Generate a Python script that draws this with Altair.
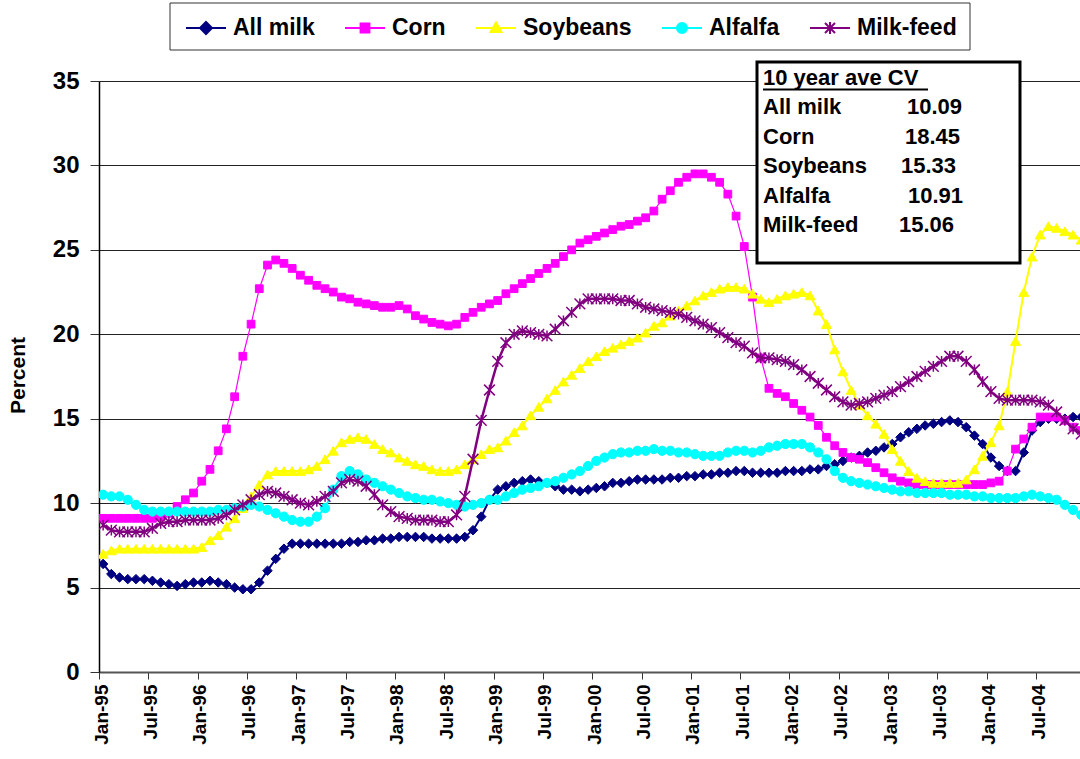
import json
import altair as alt
import pandas as pd

FONT = "Liberation Sans"

series_names = ["All milk", "Corn", "Soybeans", "Alfalfa", "Milk-feed"]
series_colors = ["#000080", "#FF00FF", "#FFFF00", "#00FFFF", "#800080"]

# Monthly categories, Jan-95 .. Dec-04
months = pd.date_range("1995-01-01", periods=120, freq="MS").strftime("%b-%y").tolist()

all_milk = [
    6.4, 5.8, 5.6, 5.5, 5.5, 5.5, 5.4, 5.3, 5.2, 5.1,
    5.2, 5.3, 5.3, 5.4, 5.3, 5.2, 5.0, 4.9, 4.9, 5.3,
    6.0, 6.7, 7.3, 7.6, 7.6, 7.6, 7.6, 7.6, 7.6, 7.6,
    7.7, 7.7, 7.8, 7.8, 7.9, 7.9, 8.0, 8.0, 8.0, 8.0,
    7.9, 7.9, 7.9, 7.9, 8.0, 8.4, 9.2, 10.2, 10.8, 11.0,
    11.2, 11.3, 11.4, 11.3, 11.2, 11.0, 10.8, 10.8, 10.7, 10.8,
    10.9, 11.0, 11.2, 11.2, 11.3, 11.4, 11.4, 11.4, 11.4, 11.5,
    11.5, 11.6, 11.6, 11.7, 11.7, 11.8, 11.8, 11.9, 11.9, 11.8,
    11.8, 11.8, 11.8, 11.9, 11.9, 11.9, 12.0, 12.0, 12.2, 12.3,
    12.5, 12.7, 12.8, 13.0, 13.1, 13.3, 13.5, 13.9, 14.2, 14.4,
    14.6, 14.7, 14.8, 14.9, 14.8, 14.5, 14.0, 13.5, 12.7, 12.2,
    11.9, 11.9, 13.0, 14.3, 14.8, 15.0, 15.0, 15.0, 15.1, 15.1,
]
corn = [
    9.1, 9.1, 9.1, 9.1, 9.1, 9.1, 9.1, 9.2, 9.4, 9.8,
    10.2, 10.6, 11.3, 12.0, 13.1, 14.4, 16.3, 18.7, 20.6, 22.7,
    24.1, 24.4, 24.2, 23.9, 23.5, 23.2, 22.9, 22.7, 22.5, 22.2,
    22.1, 21.9, 21.8, 21.7, 21.6, 21.6, 21.7, 21.5, 21.1, 20.9,
    20.7, 20.6, 20.5, 20.6, 21.0, 21.3, 21.6, 21.8, 22.0, 22.4,
    22.7, 23.0, 23.3, 23.6, 23.9, 24.2, 24.6, 25.0, 25.4, 25.6,
    25.8, 26.0, 26.2, 26.4, 26.5, 26.7, 26.9, 27.3, 28.0, 28.5,
    29.0, 29.3, 29.5, 29.5, 29.3, 29.0, 28.3, 27.0, 25.2, 22.2,
    18.6, 16.8, 16.5, 16.3, 15.9, 15.5, 15.1, 14.6, 13.9, 13.4,
    13.0, 12.7, 12.6, 12.4, 12.1, 11.8, 11.5, 11.3, 11.2, 11.1,
    11.1, 11.1, 11.1, 11.1, 11.1, 11.1, 11.1, 11.1, 11.2, 11.3,
    11.9, 13.2, 13.8, 14.5, 15.1, 15.1, 15.1, 14.9, 14.5, 14.3,
]
soybeans = [
    7.0, 7.2, 7.3, 7.3, 7.3, 7.3, 7.3, 7.3, 7.3, 7.3,
    7.3, 7.3, 7.4, 7.8, 8.1, 8.6, 9.1, 9.7, 10.4, 11.1,
    11.7, 11.9, 11.9, 11.9, 11.9, 12.0, 12.2, 12.6, 13.1, 13.6,
    13.8, 13.9, 13.8, 13.5, 13.2, 13.0, 12.7, 12.5, 12.3, 12.2,
    12.0, 11.9, 11.9, 12.0, 12.3, 12.6, 12.9, 13.2, 13.3, 13.7,
    14.2, 14.6, 15.2, 15.7, 16.2, 16.7, 17.2, 17.6, 18.0, 18.4,
    18.7, 19.0, 19.2, 19.4, 19.6, 19.8, 20.1, 20.5, 20.7, 21.1,
    21.4, 21.7, 22.0, 22.3, 22.5, 22.7, 22.8, 22.8, 22.7, 22.4,
    22.1, 21.9, 22.1, 22.3, 22.4, 22.5, 22.3, 21.4, 20.6, 19.1,
    17.8, 16.7, 15.8, 15.2, 14.7, 14.1, 13.2, 12.5, 11.9, 11.5,
    11.3, 11.2, 11.2, 11.2, 11.2, 11.4, 12.0, 12.8, 13.6, 14.6,
    16.6, 19.6, 22.5, 24.6, 25.9, 26.4, 26.3, 26.1, 25.9, 25.6,
]
alfalfa = [
    10.5, 10.4, 10.4, 10.2, 9.9, 9.6, 9.5, 9.5, 9.5, 9.5,
    9.5, 9.5, 9.5, 9.5, 9.6, 9.6, 9.7, 9.8, 9.9, 9.8,
    9.6, 9.4, 9.2, 9.0, 8.9, 8.9, 9.2, 9.7, 10.8, 11.6,
    11.9, 11.7, 11.4, 11.2, 11.0, 10.8, 10.6, 10.4, 10.3, 10.2,
    10.2, 10.1, 10.0, 9.9, 9.8, 9.9, 10.0, 10.2, 10.2, 10.4,
    10.6, 10.8, 10.9, 11.0, 11.2, 11.3, 11.5, 11.7, 11.9, 12.2,
    12.5, 12.7, 12.9, 13.0, 13.0, 13.1, 13.1, 13.2, 13.1, 13.1,
    13.0, 13.0, 12.9, 12.8, 12.8, 12.8, 13.0, 13.1, 13.1, 13.0,
    13.1, 13.3, 13.4, 13.5, 13.5, 13.5, 13.3, 13.0, 12.6, 11.9,
    11.5, 11.3, 11.2, 11.1, 11.0, 10.9, 10.8, 10.7, 10.7, 10.6,
    10.6, 10.6, 10.6, 10.5, 10.5, 10.5, 10.4, 10.4, 10.3, 10.3,
    10.3, 10.3, 10.4, 10.5, 10.4, 10.3, 10.2, 9.9, 9.6, 9.3,
]
milk_feed = [
    8.7, 8.4, 8.3, 8.3, 8.3, 8.3, 8.5, 8.8, 8.9, 8.9,
    9.0, 9.0, 9.0, 9.0, 9.1, 9.3, 9.6, 9.9, 10.2, 10.5,
    10.7, 10.6, 10.4, 10.2, 10.0, 9.9, 10.1, 10.4, 10.7, 11.2,
    11.4, 11.3, 11.0, 10.5, 9.9, 9.5, 9.2, 9.1, 9.0, 9.0,
    9.0, 8.9, 8.9, 9.3, 10.4, 12.6, 14.9, 16.7, 18.4, 19.5,
    20.0, 20.2, 20.1, 20.0, 19.9, 20.3, 20.8, 21.3, 21.8, 22.1,
    22.1, 22.1, 22.1, 22.0, 22.0, 21.8, 21.6, 21.5, 21.4, 21.3,
    21.2, 21.0, 20.8, 20.6, 20.4, 20.1, 19.8, 19.5, 19.3, 18.9,
    18.6, 18.6, 18.5, 18.4, 18.2, 17.9, 17.5, 17.1, 16.7, 16.3,
    16.0, 15.8, 15.9, 16.0, 16.2, 16.4, 16.6, 16.9, 17.2, 17.5,
    17.8, 18.1, 18.4, 18.7, 18.7, 18.4, 17.9, 17.2, 16.6, 16.2,
    16.1, 16.1, 16.1, 16.1, 16.0, 15.8, 15.4, 14.9, 14.4, 14.1,
]

# Ten-year average coefficient of variation, per series
cv_values = [10.09, 18.45, 15.33, 10.91, 15.06]

series_values = [all_milk, corn, soybeans, alfalfa, milk_feed]
rows = []
for name, vals in zip(series_names, series_values):
    for i, v in enumerate(vals):
        rows.append({"series": name, "idx": i, "month": months[i], "value": v})
df = pd.DataFrame(rows)

# --- scales / axes -------------------------------------------------------
tick_vals = [-0.5 + 6 * k for k in range(20)]
tick_labels = months[::6][:20]
label_expr = f"{json.dumps(tick_labels)}[round((datum.value + 0.5) / 6)]"

X = alt.X(
    "idx:Q",
    scale=alt.Scale(domain=[-0.5, 118.84], nice=False, zero=False),
    axis=alt.Axis(
        values=tick_vals, labelExpr=label_expr, title=None, grid=False,
        labelAngle=-90, labelFont=FONT, labelFontSize=19, labelFontWeight="bold",
        labelColor="black", labelPadding=5, labelOffset=2, labelOverlap=False,
        tickColor="#333", tickSize=7, tickWidth=1,
        domainColor="#555", domainWidth=2,
    ),
)
Y = alt.Y(
    "value:Q",
    scale=alt.Scale(domain=[0, 35], nice=False, zero=True),
    axis=alt.Axis(
        values=[0, 5, 10, 15, 20, 25, 30, 35], title="Percent",
        labelFont=FONT, labelFontSize=24, labelFontWeight="bold", labelColor="black",
        labelPadding=11, tickColor="#333", tickSize=9, tickWidth=1,
        domainColor="black", domainWidth=1.5,
        grid=True, gridColor="#222", gridWidth=1,
        titleFont=FONT, titleFontSize=21, titleFontWeight="bold", titleColor="black",
        titleAngle=-90, titleX=-81, titleY=294, titleAlign="center", titleBaseline="middle",
    ),
)

# --- series: line + markers, drawn in series order ----------------------
star_path = "M-1,-1L1,1M-1,1L1,-1M0,-1L0,1"
marker_style = [
    dict(shape="diamond", size=90, filled=True, strokeWidth=1),
    dict(shape="square", size=60, filled=True, strokeWidth=1),
    dict(shape="triangle-up", size=100, filled=True, strokeWidth=1),
    dict(shape="circle", size=85, filled=True, strokeWidth=1),
    dict(shape=star_path, size=115, filled=False, strokeWidth=1.5),
]
line_widths = [2, 1.2, 2, 2, 2.5]

layers = []
for name, color, mstyle, lw in zip(series_names, series_colors, marker_style, line_widths):
    base = alt.Chart(df).transform_filter(alt.datum.series == name)
    line = base.mark_line(color=color, strokeWidth=lw, clip=True).encode(x=X, y=Y)
    pts = base.mark_point(
        fill=color, stroke=color, opacity=1, clip=True, **mstyle
    ).encode(x=X, y=Y)
    layers += [line, pts]

# --- legend (line + marker symbols) -------------------------------------
legend_paths = [
    "M-1,0L1,0M0,-0.3L0.3,0L0,0.3L-0.3,0Z",
    "M-1,0L1,0M-0.22,-0.22L0.22,-0.22L0.22,0.22L-0.22,0.22Z",
    "M-1,0L1,0M0,-0.27L0.27,0.2L-0.27,0.2Z",
    "M-1,0L1,0M0.25,0A0.25,0.25,0,1,1,-0.25,0A0.25,0.25,0,1,1,0.25,0Z",
    "M-1,0L1,0M-0.25,-0.25L0.25,0.25M-0.25,0.25L0.25,-0.25M0,-0.3L0,0.3",
]
leg = alt.Legend(
    title=None, orient="none", legendX=86, legendY=-74, direction="horizontal",
    symbolSize=1600, symbolStrokeWidth=2, symbolOpacity=1,
    labelFont=FONT, labelFontSize=23, labelFontWeight="bold", labelColor="black",
    labelOffset=6, columnPadding=26, padding=0, rowPadding=0,
)
legend_frame = alt.Chart(pd.DataFrame({"k": [0]})).mark_rect(
    fill="white", stroke="#333", strokeWidth=1
).encode(x=alt.value(71), x2=alt.value(871), y=alt.value(-78), y2=alt.value(-31))
legend_layer = alt.Chart(df).transform_filter("false").mark_point(
    filled=True, opacity=1, strokeWidth=2
).encode(
    x=X, y=Y,
    color=alt.Color("series:N", scale=alt.Scale(domain=series_names, range=series_colors), legend=leg),
    stroke=alt.Stroke("series:N", scale=alt.Scale(domain=series_names, range=series_colors), legend=leg),
    shape=alt.Shape("series:N", scale=alt.Scale(domain=series_names, range=legend_paths), legend=leg),
)
layers += [legend_frame, legend_layer]

# --- CV text box ---------------------------------------------------------
box = alt.Chart(pd.DataFrame({"k": [0]})).mark_rect(
    fill="white", stroke="black", strokeWidth=3
).encode(x=alt.value(658), x2=alt.value(921), y=alt.value(-19), y2=alt.value(182))
layers.append(box)

def text_layer(txt, x, y):
    return alt.Chart(pd.DataFrame({"t": [txt]})).mark_text(
        font=FONT, fontSize=22, fontWeight="bold", color="black",
        align="left", baseline="alphabetic",
    ).encode(text="t:N", x=alt.value(x), y=alt.value(y))

layers.append(text_layer("10 year ave CV", 664, 4))
layers.append(
    alt.Chart(pd.DataFrame({"k": [0]})).mark_rule(color="black", strokeWidth=2).encode(
        x=alt.value(664), x2=alt.value(829), y=alt.value(8.5)
    )
)
value_x = [808, 806, 802, 809, 800]
for i, (name, cv) in enumerate(zip(series_names, cv_values)):
    yb = 33 + 29.6 * i
    layers.append(text_layer(name, 664, yb))
    layers.append(text_layer(f"{cv:.2f}", value_x[i], yb))

chart = (
    alt.layer(*layers)
    .properties(
        width=981, height=591,
        padding={"left": 99, "top": 81, "right": 0, "bottom": 87},
        autosize=alt.AutoSizeParams(type="none"),
        background="white",
    )
    .configure_view(stroke=None)
)

chart.save("out.html", embed_options={"renderer": "svg", "actions": False})
